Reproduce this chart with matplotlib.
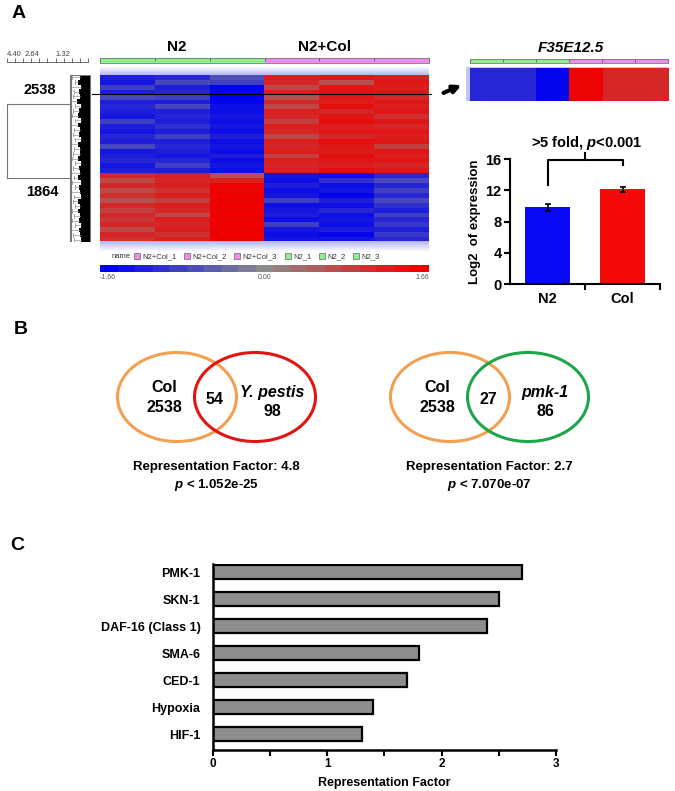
import matplotlib
matplotlib.use('Agg')
import matplotlib.pyplot as plt
import numpy as np
from matplotlib.colors import LinearSegmentedColormap
from matplotlib.patches import Ellipse, Rectangle
from matplotlib.lines import Line2D

plt.rcParams['font.family'] = ['Liberation Sans', 'DejaVu Sans']
plt.rcParams['font.weight'] = 'bold'
plt.rcParams['axes.labelweight'] = 'bold'
plt.rcParams['mathtext.fontset'] = 'custom'
plt.rcParams['mathtext.it'] = 'Liberation Sans:bold:italic'
plt.rcParams['mathtext.rm'] = 'Liberation Sans:bold'

W, H = 675, 791

# ---------------- data ----------------
samples = ['N2_1', 'N2_2', 'N2_3', 'N2+Col_1', 'N2+Col_2', 'N2+Col_3']
groups = ['N2', 'N2', 'N2', 'N2+Col', 'N2+Col', 'N2+Col']
cluster_sizes = [2538, 1864]

# row bands of the clustered heatmap (log ratio), columns in sample order
top_block = [
    [-1.3, -1.2, -0.7, 1.3, 1.4, 1.3],
    [-1.4, -0.8, -0.9, 1.2, 0.7, 1.4],
    [-0.9, -1.3, -1.6, 0.8, 1.4, 1.3],
    [-1.3, -1.2, -1.6, 1.3, 1.5, 1.4],
    [-0.8, -0.9, -1.7, 0.7, 1.4, 1.2],
    [-1.3, -1.3, -1.6, 1.2, 1.3, 1.4],
    [-1.2, -0.8, -1.5, 0.8, 1.5, 1.3],
    [-1.3, -1.3, -1.5, 1.3, 1.2, 1.4],
    [-1.4, -1.2, -1.4, 1.2, 1.4, 1.1],
    [-0.9, -1.3, -1.5, 0.9, 1.5, 1.4],
    [-1.3, -1.1, -1.4, 1.3, 1.3, 1.2],
    [-1.4, -1.3, -1.5, 1.2, 1.4, 1.4],
    [-1.2, -0.9, -1.3, 0.8, 1.2, 1.3],
    [-1.3, -1.3, -1.5, 1.3, 1.5, 1.4],
    [-0.8, -1.2, -1.4, 1.2, 1.4, 0.9],
    [-1.4, -1.3, -1.5, 1.3, 1.3, 1.4],
    [-1.3, -1.4, -1.3, 0.9, 1.5, 1.3],
    [-1.2, -1.2, -1.5, 1.3, 1.4, 1.4],
    [-1.4, -0.9, -1.4, 1.2, 1.3, 1.2],
    [-1.3, -1.3, -1.5, 1.3, 1.5, 1.4],
]
bottom_block = [
    [1.2, 1.3, 0.7, -1.4, -1.5, -1.2],
    [0.8, 1.2, 1.3, -1.5, -1.1, -0.8],
    [1.2, 1.3, 1.6, -1.3, -1.5, -1.2],
    [0.8, 1.1, 1.6, -1.5, -1.4, -0.9],
    [1.1, 1.3, 1.7, -1.4, -1.6, -1.2],
    [0.7, 0.9, 1.6, -0.9, -1.3, -0.8],
    [1.2, 1.3, 1.7, -1.5, -1.5, -1.1],
    [0.9, 1.2, 1.6, -1.4, -1.2, -1.3],
    [1.2, 0.8, 1.7, -1.3, -1.5, -0.9],
    [1.0, 1.3, 1.6, -1.5, -1.4, -1.2],
    [1.2, 1.2, 1.7, -0.9, -1.5, -1.0],
    [0.8, 1.3, 1.6, -1.4, -1.3, -1.3],
    [1.2, 1.1, 1.7, -1.5, -1.6, -1.0],
    [1.1, 1.3, 1.6, -1.4, -1.4, -1.2],
]
highlight_row = 3.9
scale_max = 1.66
dendro_labels = [4.40, 2.64, 1.32]
# left edge (distance) of the dense leaf block, top to bottom
leaf_edge = [0.42, 0.55, 0.38, 0.5, 0.45, 0.58, 0.36, 0.47, 0.52, 0.4, 0.56, 0.44,
             0.5, 0.39, 0.54, 0.46, 0.41, 0.53, 0.37, 0.49, 0.44, 0.57, 0.4, 0.5,
             0.45, 0.36, 0.52, 0.43, 0.55, 0.41, 0.48, 0.38, 0.51, 0.44, 0.4]
# length of the grey sub-branches next to the leaf block
branch_len = [0.85, 0.7, 0.9, 0.75, 0.8, 0.92, 0.68, 0.82, 0.88, 0.72, 0.9, 0.78,
              0.84, 0.7, 0.93, 0.76, 0.8, 0.87, 0.69, 0.83, 0.9, 0.74, 0.86, 0.71,
              0.92, 0.78, 0.82, 0.7, 0.88, 0.75, 0.85, 0.72, 0.9, 0.8, 0.77]

f35_expr = [-1.2, -1.2, -1.6, 1.6, 1.2, 1.2]
bar_groups = ['N2', 'Col']
bar_values = [9.8, 12.1]
bar_errors = [0.4, 0.3]

venn_left = ['Col', 'Col']
venn_right = ['Y. pestis', 'pmk-1']
venn_right_colors = ['#e31414', '#1ea64a']
left_only = [2538, 2538]
right_only = [98, 86]
overlap = [54, 27]
rep_factor = [4.8, 2.7]
p_values = ['1.052e-25', '7.070e-07']

factors = ['PMK-1', 'SKN-1', 'DAF-16 (Class 1)', 'SMA-6', 'CED-1', 'Hypoxia', 'HIF-1']
factor_rf = [2.7, 2.5, 2.4, 1.8, 1.7, 1.4, 1.3]

# ---------------- figure ----------------
fig = plt.figure(figsize=(W / 100, H / 100), dpi=100)


def px_axes(l, t, r, b):
    return fig.add_axes([l / W, 1 - b / H, (r - l) / W, (b - t) / H])


def px_text(x, y, s, **kw):
    kw.setdefault('ha', 'center')
    fig.text(x / W, 1 - y / H, s, va='center', **kw)


cmap = LinearSegmentedColormap.from_list('bgr', ['#0000f0', '#8c8c8c', '#f00000'])
group_colors = {'N2': '#8cf08c', 'N2+Col': '#ee8cee'}

px_text(19, 13, 'A', fontsize=14)
px_text(21, 330, 'B', fontsize=14)
px_text(17, 546, 'C', fontsize=14)

# ---- heatmap ----
data = np.array(top_block + bottom_block)
n = len(data)
pad_top, pad_bot = 1.63, 2.04
ax_hm = px_axes(100, 67, 429, 252)
ax_hm.imshow(data, cmap=cmap, vmin=-scale_max, vmax=scale_max, aspect='auto',
             interpolation='nearest', extent=(0, 6, n, 0))
fade = np.linspace([1, 1, 1], [0.72, 0.72, 0.97], 12).reshape(12, 1, 3)
ax_hm.imshow(fade, aspect='auto', extent=(0, 6, 0, -pad_top))
ax_hm.imshow(fade[::-1], aspect='auto', extent=(0, 6, n + pad_bot, n))
ax_hm.set_xlim(0, 6)
ax_hm.set_ylim(n + pad_bot, -pad_top)
ax_hm.axis('off')
ax_hm.plot([-0.15, 6.03], [highlight_row, highlight_row], color='black', lw=0.8, clip_on=False)

# header strip
ax_hdr = px_axes(100, 58, 429, 63)
for i, g in enumerate(groups):
    ax_hdr.axvspan(i, i + 1, color=group_colors[g], lw=0)
ax_hdr.set_xlim(0, 6)
ax_hdr.set_ylim(0, 1)
ax_hdr.set_xticks(range(7))
ax_hdr.set_yticks([])
ax_hdr.tick_params(axis='x', top=True, bottom=False, labelbottom=False, direction='in',
                   length=2, width=0.6, color='#555555')
for s in ax_hdr.spines.values():
    s.set_color('#777777')
    s.set_linewidth(0.6)
ax_hdr.text(1.4, 3.2, 'N2', ha='center', va='center', fontsize=11)
ax_hdr.text(4.1, 3.2, 'N2+Col', ha='center', va='center', fontsize=11)

# legend row
handles = [Line2D([], [], marker='s', ls='', markersize=4, markerfacecolor=group_colors[g],
                  markeredgecolor='#666666', markeredgewidth=0.5) for g in groups]
order = [3, 4, 5, 0, 1, 2]
leg = fig.legend([handles[i] for i in order], [samples[i] for i in order], ncol=6,
                 loc='center left', bbox_to_anchor=(133 / W, 1 - 257 / H), frameon=False,
                 prop={'size': 5.5, 'weight': 'normal'}, handletextpad=0.2, columnspacing=0.9,
                 handlelength=1.0, borderaxespad=0, borderpad=0)
for t in leg.get_texts():
    t.set_color('#333333')
px_text(121, 257, 'name', fontsize=5.5, fontweight='normal', color='#333333')

# colour scale
ax_cb = px_axes(100, 265, 429, 272)
ax_cb.imshow(np.linspace(-scale_max, scale_max, 200).reshape(1, -1), cmap=cmap.resampled(19),
             vmin=-scale_max, vmax=scale_max, aspect='auto', extent=(-scale_max, scale_max, 0, 1))
ax_cb.axis('off')
for v, ha in [(-scale_max, 'left'), (0, 'center'), (scale_max, 'right')]:
    ax_cb.text(v, -0.3, f'{v:.2f}', ha=ha, va='top', fontsize=5, fontweight='normal', color='#555555')

# ruler and dendrogram
xl = (4.617, -0.217)
ax_r = px_axes(3, 57, 92, 62)
ax_r.set_xlim(*xl)
ax_r.set_ylim(0, 1)
for s in ['top', 'left', 'right']:
    ax_r.spines[s].set_visible(False)
ax_r.spines['bottom'].set_bounds(dendro_labels[0], 0)
ax_r.spines['bottom'].set_color('#555555')
ax_r.spines['bottom'].set_linewidth(0.6)
ax_r.set_yticks([])
ax_r.set_xticks(np.linspace(0, dendro_labels[0], 11))
ax_r.tick_params(axis='x', direction='in', length=3, width=0.6, color='#555555',
                 labelbottom=False)
for lab, xc in zip(dendro_labels, [14, 32, 63]):
    px_text(xc, 54, f'{lab:.2f}', fontsize=5.5, fontweight='normal', color='#444444')

total = sum(cluster_sizes)
ax_d = px_axes(3, 75, 92, 242)
ax_d.set_xlim(*xl)
ax_d.set_ylim(total, 0)
ax_d.axis('off')
edges = np.linspace(0, total, len(leaf_edge) + 1)
for e0, e1, d, b in zip(edges[:-1], edges[1:], leaf_edge, branch_len):
    ax_d.fill_betweenx([e0, e1], -0.11, d, color='black', lw=0)
    mid = (e0 + e1) / 2
    ax_d.plot([b, b], [e0 + 15, e1 - 15], color='#999999', lw=0.6)
    ax_d.plot([b, d], [mid, mid], color='#999999', lw=0.5)
ax_d.add_patch(Rectangle((-0.11, 0), 1.08, total, fill=False, ec='#777777', lw=0.8))
starts = [0, cluster_sizes[0]]
attach = [starts[0] + 0.3 * cluster_sizes[0], starts[1] + 0.1 * cluster_sizes[1]]
for s0, sz, a in zip(starts, cluster_sizes, attach):
    ax_d.plot([0.95, 0.95], [s0 + 20, s0 + sz - 20], color='#777777', lw=0.8)
    ax_d.plot([dendro_labels[0], 0.95], [a, a], color='#777777', lw=0.8)
ax_d.plot([dendro_labels[0], dendro_labels[0]], attach, color='#777777', lw=0.8)
px_text(40, 90, str(cluster_sizes[0]), fontsize=10.5)
px_text(42, 192, str(cluster_sizes[1]), fontsize=10.5)

# ---- single gene strip ----
px_text(571, 48, 'F35E12.5', fontsize=11, fontstyle='italic')
ax_h2 = px_axes(470, 59, 668, 63)
for i, g in enumerate(groups):
    ax_h2.axvspan(i, i + 1, color=group_colors[g], lw=0)
ax_h2.set_xlim(0, 6)
ax_h2.set_xticks(range(7))
ax_h2.set_yticks([])
ax_h2.tick_params(axis='x', top=True, bottom=False, labelbottom=False, direction='in',
                  length=2, width=0.6, color='#555555')
for s in ax_h2.spines.values():
    s.set_color('#777777')
    s.set_linewidth(0.6)

ax_g = px_axes(466, 67, 668, 101)
ax_g.set_facecolor('#c4c4f0')
ax_g.imshow(np.array([f35_expr]), cmap=cmap, vmin=-scale_max, vmax=scale_max, aspect='auto',
            interpolation='nearest', extent=(0, 6, 1, 0))
ax_g.set_xlim(-0.12, 6)
ax_g.set_ylim(1, -0.06)
ax_g.set_xticks([])
ax_g.set_yticks([])
for s in ax_g.spines.values():
    s.set_visible(False)

# ---- bar chart ----
ax_b = px_axes(510, 159, 660, 284)
xb = np.arange(len(bar_groups))
ax_b.bar(xb, bar_values, width=0.59, color=['#0a0af5', '#f50a0a'], yerr=bar_errors,
         capsize=2.5, error_kw=dict(elinewidth=1.2, capthick=1.2, ecolor='black'))
ax_b.set_xlim(-0.5, 1.5)
ax_b.set_ylim(0, 16)
ax_b.set_yticks([0, 4, 8, 12, 16])
ax_b.set_xticks(xb, bar_groups)
ax_b.set_xticks([0.5, 1.5], minor=True)
ax_b.tick_params(axis='x', which='major', length=0, labelsize=10.5, pad=6)
ax_b.tick_params(axis='x', which='minor', length=4, width=1.5, direction='out')
ax_b.tick_params(axis='y', length=4, width=1.5, labelsize=10.5, pad=2)
ax_b.spines['top'].set_visible(False)
ax_b.spines['right'].set_visible(False)
ax_b.spines['left'].set_linewidth(1.5)
ax_b.spines['bottom'].set_linewidth(1.5)
ax_b.set_ylabel('Log2  of expression', fontsize=9.5, labelpad=3, fontweight='bold')
leg_l = bar_values[0] + bar_errors[0] + 2.5
leg_r = bar_values[1] + bar_errors[1] + 2.8
top = 15.9
ax_b.plot([0, 0, 1, 1], [leg_l, top, top, leg_r], color='black', lw=1.5, clip_on=False)
ax_b.plot([0.5, 0.5], [top, top + 0.9], color='black', lw=1.5, clip_on=False)
ax_b.text(0.52, top + 2.2, '>5 fold, $p$<0.001', ha='center', va='center', fontsize=10.5)
ax_b.annotate('', xy=(464, H - 84), xytext=(441, H - 94), xycoords='figure pixels',
              textcoords='figure pixels', annotation_clip=False,
              arrowprops=dict(arrowstyle='-|>', lw=3.0, color='black', mutation_scale=11))

# ---- venn diagrams ----
sep = 0.78
for k, (lx, rx) in enumerate([(101, 331), (374, 604)]):
    ax_v = px_axes(lx, 345, rx, 495)
    ax_v.set_xlim(-1.15, 1.15)
    ax_v.set_ylim(-0.98, 0.52)
    ax_v.axis('off')
    ax_v.add_patch(Ellipse((-sep / 2, 0), 1.19, 0.89, fill=False, ec='#f2a052', lw=2.2))
    ax_v.add_patch(Ellipse((sep / 2, 0), 1.21, 0.89, fill=False, ec=venn_right_colors[k], lw=2.2))
    ax_v.text(-0.52, 0.09, venn_left[k], ha='center', va='center', fontsize=11.5)
    ax_v.text(-0.52, -0.11, str(left_only[k]), ha='center', va='center', fontsize=11.5)
    ax_v.text(-0.01, -0.02, str(overlap[k]), ha='center', va='center', fontsize=11.5)
    ax_v.text(0.56, 0.04, venn_right[k], ha='center', va='center', fontsize=11.5, fontstyle='italic')
    ax_v.text(0.56, -0.14, str(right_only[k]), ha='center', va='center', fontsize=11.5)
    ax_v.text(0, -0.70, f'Representation Factor: {rep_factor[k]}', ha='center', va='center',
              fontsize=9.5)
    ax_v.text(0, -0.88, f'$p$ < {p_values[k]}', ha='center', va='center', fontsize=9.5)

# ---- transcription factor enrichment ----
ax_c = px_axes(213, 564, 556, 750)
yc = np.arange(len(factors))[::-1]
ax_c.barh(yc, factor_rf, height=0.5, color='#8e8e8e', edgecolor='black', lw=1.6)
ax_c.set_xlim(0, 3)
ax_c.set_ylim(-0.59, 6.3)
ax_c.set_yticks(yc, factors)
ax_c.set_xticks([0, 1, 2, 3])
ax_c.set_xticks([0.5, 1.5, 2.5], minor=True)
ax_c.tick_params(axis='y', length=0, pad=9, labelsize=9)
ax_c.tick_params(axis='x', which='both', length=4, width=1.5, direction='out', labelsize=8.5, pad=2)
ax_c.spines['top'].set_visible(False)
ax_c.spines['right'].set_visible(False)
ax_c.spines['left'].set_linewidth(1.8)
ax_c.spines['bottom'].set_linewidth(1.8)
ax_c.set_xlabel('Representation Factor', fontsize=9, labelpad=5, fontweight='bold')

fig.savefig('out.png', dpi=100)
